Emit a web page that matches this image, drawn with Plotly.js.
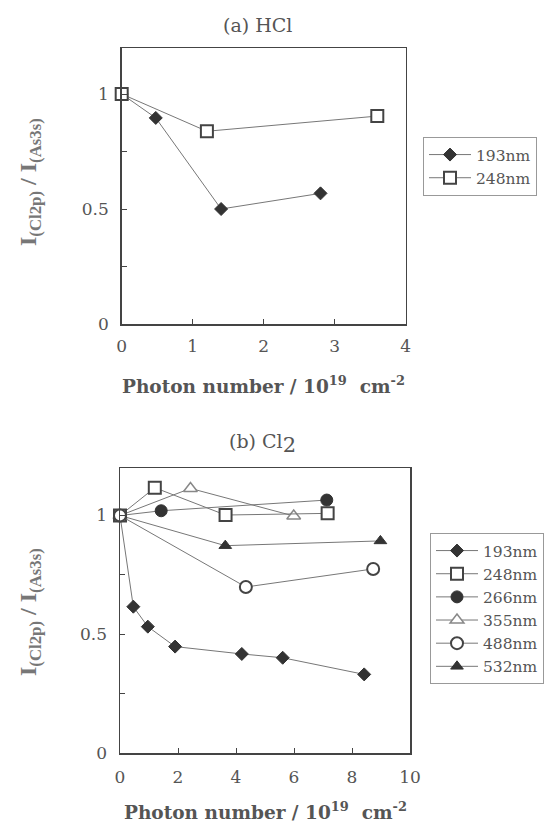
<!DOCTYPE html>
<html>
<head>
<meta charset="utf-8">
<script src="https://cdn.plot.ly/plotly-3.0.1.min.js"></script>
<style>html,body{margin:0;padding:0;background:#fff;}</style>
</head>
<body>
<div id="chart" style="width:548px;height:824px;"></div>
<script>
// ---- Panel (a) HCl ----
const hcl_193_x = [0, 0.48, 1.40, 2.80];
const hcl_193_y = [1.0, 0.896, 0.50, 0.568];
const hcl_248_x = [0, 1.20, 3.60];
const hcl_248_y = [1.0, 0.838, 0.904];

// ---- Panel (b) Cl2 ----
const cl2_193_x = [0, 0.46, 0.96, 1.90, 4.20, 5.61, 8.42];
const cl2_193_y = [1.0, 0.616, 0.532, 0.448, 0.417, 0.401, 0.331];
const cl2_248_x = [0, 1.20, 3.64, 7.16];
const cl2_248_y = [1.0, 1.117, 1.002, 1.009];
const cl2_266_x = [0, 1.42, 7.13];
const cl2_266_y = [1.0, 1.020, 1.065];
const cl2_355_x = [0, 2.43, 5.99];
const cl2_355_y = [1.0, 1.114, 0.998];
const cl2_488_x = [0, 4.34, 8.73];
const cl2_488_y = [1.0, 0.699, 0.775];
const cl2_532_x = [0, 3.63, 8.98];
const cl2_532_y = [1.0, 0.873, 0.893];

const seriesNames = ['193nm', '248nm', '266nm', '355nm', '488nm', '532nm'];
const panelTitles = ['(a) HCl', '(b) Cl<sub><span style="font-size:21px">2</span></sub>'];
const yTickVals = [0, 0.25, 0.5, 0.75, 1];
const yTickText = ['0', '', '0.5', '', '1'];
const xTitle = '<b>Photon number / 10<sup>19</sup>&nbsp;&nbsp;cm<sup>-2</sup></b>';
const yTitle = '<b>I<sub>(Cl2p)</sub> / I<sub>(As3s)</sub></b>';

const LINE = {color: '#777', width: 1};
const serif = 'DejaVu Serif, serif';
const tserif = 'Liberation Serif, Times New Roman, serif';

const styles = {
  '193nm': {symbol: 'diamond', size: 10, color: '#333', line: {color: '#333', width: 1}},
  '248nm': {symbol: 'square', size: 12, color: '#fff', line: {color: '#444', width: 2}},
  '266nm': {symbol: 'circle', size: 12, color: '#333', line: {color: '#333', width: 1}},
  '355nm': {symbol: 'triangle-up', size: 12, color: '#fff', line: {color: '#888', width: 1.5}},
  '488nm': {symbol: 'circle', size: 12, color: '#fff', line: {color: '#444', width: 2}},
  '532nm': {symbol: 'triangle-up', size: 11, color: '#333', line: {color: '#333', width: 1}}
};

function tr(x, y, name, xa, ya, leg, rank) {
  return {x: x, y: y, name: name, type: 'scatter', mode: 'lines+markers',
    xaxis: xa, yaxis: ya, legend: leg, legendrank: rank,
    line: LINE, marker: styles[name], cliponaxis: false};
}

const data = [
  tr(hcl_193_x, hcl_193_y, seriesNames[0], 'x', 'y', 'legend', 1),
  tr(hcl_248_x, hcl_248_y, seriesNames[1], 'x', 'y', 'legend', 2),
  tr(cl2_193_x, cl2_193_y, seriesNames[0], 'x2', 'y2', 'legend2', 1),
  tr(cl2_266_x, cl2_266_y, seriesNames[2], 'x2', 'y2', 'legend2', 3),
  tr(cl2_355_x, cl2_355_y, seriesNames[3], 'x2', 'y2', 'legend2', 4),
  tr(cl2_532_x, cl2_532_y, seriesNames[5], 'x2', 'y2', 'legend2', 6),
  tr(cl2_248_x, cl2_248_y, seriesNames[1], 'x2', 'y2', 'legend2', 2),
  tr(cl2_488_x, cl2_488_y, seriesNames[4], 'x2', 'y2', 'legend2', 5)
];

const W = 548, H = 824;
const px = v => v / W;
const py = v => 1 - v / H;

const axisBase = {
  showgrid: false, zeroline: false, showline: true, mirror: true,
  linecolor: '#444', linewidth: 1.5, ticks: 'inside', ticklen: 5,
  tickcolor: '#444', tickwidth: 1,
  tickfont: {family: serif, size: 17, color: '#555'}, fixedrange: true
};

const legendBase = {
  bgcolor: '#fff', bordercolor: '#999', borderwidth: 1,
  font: {family: serif, size: 15.5, color: '#555'},
  xanchor: 'left', yanchor: 'top', traceorder: 'normal', tracegroupgap: 0,
  itemwidth: 42
};

const layout = {
  width: W, height: H,
  margin: {l: 0, r: 0, t: 0, b: 0, autoexpand: false},
  paper_bgcolor: '#fff', plot_bgcolor: '#fff',
  showlegend: true,
  xaxis: Object.assign({}, axisBase, {domain: [px(121.7), px(405.7)], range: [0, 4],
    tickvals: [0, 1, 2, 3, 4], anchor: 'y', ticklabelstandoff: 6}),
  yaxis: Object.assign({}, axisBase, {domain: [py(324), py(48)], range: [0, 1.2],
    tickvals: yTickVals, ticktext: yTickText, anchor: 'x', ticklabelstandoff: 8}),
  xaxis2: Object.assign({}, axisBase, {domain: [px(120), px(410)], range: [0, 10],
    tickvals: [0, 2, 4, 6, 8, 10], anchor: 'y2', ticklabelstandoff: 8}),
  yaxis2: Object.assign({}, axisBase, {domain: [py(753), py(468)], range: [0, 1.2],
    tickvals: yTickVals, ticktext: yTickText, anchor: 'x2', ticklabelstandoff: 8}),
  legend: Object.assign({}, legendBase, {x: px(423), y: py(137)}),
  legend2: Object.assign({}, legendBase, {x: px(430), y: py(533)}),
  annotations: [
    {text: panelTitles[0], xref: 'paper', yref: 'paper', x: px(257), y: py(25),
      showarrow: false, xanchor: 'center', yanchor: 'middle',
      font: {family: serif, size: 19, color: '#555'}},
    {text: panelTitles[1], xref: 'paper', yref: 'paper', x: px(262), y: py(443),
      showarrow: false, xanchor: 'center', yanchor: 'middle',
      font: {family: serif, size: 19, color: '#555'}},
    {text: xTitle, xref: 'paper', yref: 'paper', x: px(263), y: py(385),
      showarrow: false, xanchor: 'center', yanchor: 'middle',
      font: {family: serif, size: 18.5, color: '#555'}},
    {text: xTitle, xref: 'paper', yref: 'paper', x: px(265), y: py(811),
      showarrow: false, xanchor: 'center', yanchor: 'middle',
      font: {family: serif, size: 18.5, color: '#555'}},
    {text: yTitle, xref: 'paper', yref: 'paper', x: px(30), y: py(182),
      showarrow: false, textangle: -90, xanchor: 'center', yanchor: 'middle',
      font: {family: tserif, size: 24, color: '#777'}},
    {text: yTitle, xref: 'paper', yref: 'paper', x: px(30), y: py(612),
      showarrow: false, textangle: -90, xanchor: 'center', yanchor: 'middle',
      font: {family: tserif, size: 24, color: '#777'}}
  ]
};

Plotly.newPlot('chart', data, layout, {displayModeBar: false, staticPlot: true});
</script>
</body>
</html>
